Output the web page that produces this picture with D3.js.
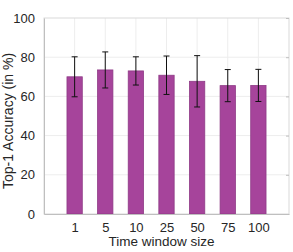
<!DOCTYPE html>
<html>
<head>
<meta charset="utf-8">
<script src="https://cdn.jsdelivr.net/npm/d3@7"></script>
<style>
  body { margin: 0; background: #fff; }
  text { font-family: "Liberation Sans", Arial, sans-serif; }
</style>
</head>
<body>
<div id="chart"></div>
<script>
let windows = ["1", "5", "10", "25", "50", "75", "100"];
let accuracy = [70, 73.5, 73, 70.8, 67.7, 65.5, 65.6];
let errors = [10.2, 9.2, 7.2, 9.8, 13.1, 8.2, 8.2];
let yTicks = [0, 20, 40, 60, 80, 100];

let width = 293,
    height = 252,
    margin = {top: 18, right: 4, bottom: 38, left: 44};

let svg = d3.select("#chart")
    .append("svg")
    .attr("width", width)
    .attr("height", height);

let plotW = width - margin.left - margin.right,
    plotH = height - margin.top - margin.bottom;

let g = svg.append("g")
    .attr("transform", "translate(" + margin.left + "," + margin.top + ")");

// categories sit at 1..7 on a 0..8 axis
let x = d3.scaleLinear().domain([0, windows.length + 1]).range([0, plotW]);
let y = d3.scaleLinear().domain([0, 100]).range([plotH, 0]);
let barW = (x(1) - x(0)) * 0.5;

// grid
g.selectAll(".hgrid")
    .data(yTicks.slice(1, -1))
    .enter().append("line")
    .attr("x1", 0).attr("x2", plotW)
    .attr("y1", d => y(d)).attr("y2", d => y(d))
    .style("stroke", "#ededed");

g.selectAll(".vgrid")
    .data(windows)
    .enter().append("line")
    .attr("x1", (d, i) => x(i + 1)).attr("x2", (d, i) => x(i + 1))
    .attr("y1", 0).attr("y2", plotH)
    .style("stroke", "#ededed");

// box
g.append("rect")
    .attr("width", plotW).attr("height", plotH)
    .style("fill", "none")
    .style("stroke", "#d9d9d9");

// bars
g.selectAll(".bar")
    .data(accuracy)
    .enter().append("rect")
    .attr("x", (d, i) => x(i + 1) - barW / 2)
    .attr("y", d => y(d))
    .attr("width", barW)
    .attr("height", d => plotH - y(d))
    .style("fill", "#a6449b")
    .style("stroke", "#8e3a86")
    .style("stroke-width", 0.8);

// error bars
let eg = g.selectAll(".err")
    .data(accuracy)
    .enter().append("g");

eg.append("line")
    .attr("x1", (d, i) => x(i + 1)).attr("x2", (d, i) => x(i + 1))
    .attr("y1", (d, i) => y(d + errors[i]))
    .attr("y2", (d, i) => y(d - errors[i]))
    .style("stroke", "#111");

eg.append("line")
    .attr("x1", (d, i) => x(i + 1) - 3).attr("x2", (d, i) => x(i + 1) + 3)
    .attr("y1", (d, i) => y(d + errors[i])).attr("y2", (d, i) => y(d + errors[i]))
    .style("stroke", "#111");

eg.append("line")
    .attr("x1", (d, i) => x(i + 1) - 3).attr("x2", (d, i) => x(i + 1) + 3)
    .attr("y1", (d, i) => y(d - errors[i])).attr("y2", (d, i) => y(d - errors[i]))
    .style("stroke", "#111");

// axes
let yAxis = g.append("g")
    .call(d3.axisLeft(y).tickValues(yTicks).tickSize(0).tickPadding(9));
yAxis.select(".domain").style("stroke", "#bfbfbf");
yAxis.selectAll("text").style("font-size", "13px").style("fill", "#262626");

let yRight = g.append("g")
    .attr("transform", "translate(" + plotW + ",0)")
    .call(d3.axisLeft(y).tickValues(yTicks).tickSize(3).tickFormat(""));
yRight.select(".domain").remove();
yRight.selectAll("line").style("stroke", "#bfbfbf");

let xAxis = g.append("g")
    .attr("transform", "translate(0," + plotH + ")")
    .call(d3.axisBottom(x).tickValues(d3.range(1, windows.length + 1))
        .tickFormat(d => windows[d - 1]).tickSize(0).tickPadding(9));
xAxis.select(".domain").style("stroke", "#bfbfbf");
xAxis.selectAll("text").style("font-size", "13px").style("fill", "#262626");

// labels
svg.append("text")
    .attr("x", margin.left + plotW / 2 - 5)
    .attr("y", height - 6)
    .attr("text-anchor", "middle")
    .style("font-size", "13.5px")
    .style("fill", "#262626")
    .text("Time window size");

svg.append("text")
    .attr("transform", "translate(13,121) rotate(-90)")
    .attr("text-anchor", "middle")
    .style("font-size", "14px")
    .style("fill", "#262626")
    .text("Top-1 Accuracy (in %)");
</script>
</body>
</html>
